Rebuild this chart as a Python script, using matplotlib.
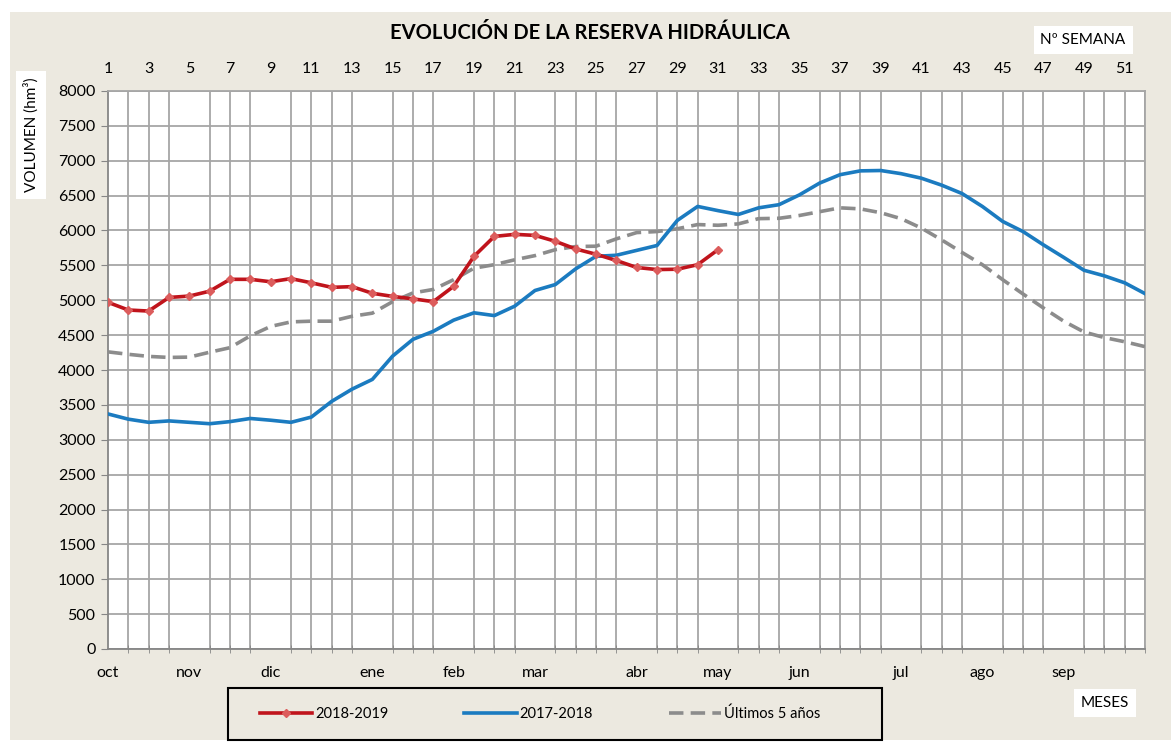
import matplotlib.pyplot as plt
from matplotlib.patches import Rectangle
from matplotlib.lines import Line2D

plt.rcParams['font.family'] = ['Lato', 'DejaVu Sans']

# Weekly data (hm3), hydrological year starting in October
weeks = list(range(1, 53))

reserva_2018_2019 = [4970, 4860, 4845, 5040, 5060, 5130, 5300, 5300, 5265, 5310,
                     5250, 5185, 5195, 5100, 5055, 5020, 4980, 5200, 5630, 5915,
                     5945, 5930, 5845, 5735, 5660, 5570, 5470, 5440, 5445, 5510,
                     5725]

reserva_2017_2018 = [3370, 3295, 3250, 3270, 3250, 3230, 3260, 3305, 3280, 3250,
                     3325, 3550, 3725, 3865, 4200, 4440, 4555, 4715, 4820, 4780,
                     4915, 5140, 5225, 5450, 5630, 5645, 5715, 5785, 6145, 6345,
                     6285, 6230, 6325, 6370, 6510, 6680, 6800, 6855, 6860, 6815,
                     6750, 6650, 6530, 6345, 6130, 5985, 5795, 5615, 5430, 5350,
                     5250, 5095]

ultimos_5 = [4260, 4225, 4195, 4180, 4185, 4255, 4320, 4490, 4625, 4690,
             4700, 4700, 4770, 4815, 4980, 5105, 5155, 5295, 5460, 5510,
             5580, 5640, 5725, 5770, 5775, 5880, 5970, 5985, 6025, 6085,
             6075, 6095, 6170, 6175, 6215, 6270, 6325, 6310, 6255, 6170,
             6035, 5865, 5685, 5510, 5295, 5090, 4890, 4700, 4545, 4465,
             4405, 4335]

meses = ['oct', 'nov', 'dic', 'ene', 'feb', 'mar', 'abr', 'may', 'jun', 'jul', 'ago', 'sep']
meses_semana = [1, 5, 9, 14, 18, 22, 27, 31, 35, 40, 44, 48]

beige = '#ece9e0'
grid_color = '#a6a6a6'

fig = plt.figure(figsize=(11.71, 7.46), dpi=100)
fig.patch.set_facecolor('white')

# Beige panel behind the whole chart
fig.patches.append(Rectangle((10 / 1171, 6 / 746), 1161 / 1171, 728 / 746,
                             transform=fig.transFigure, facecolor=beige,
                             edgecolor='none', zorder=-10))

ax = fig.add_axes([108 / 1171, 1 - 649 / 746, 1037 / 1171, 558 / 746])
ax.set_facecolor('white')

ax.plot(weeks, ultimos_5, color='#8c8c8c', lw=2.6, dashes=(4, 2), zorder=3)
ax.plot(weeks, reserva_2017_2018, color='#1b7bc0', lw=2.6, zorder=4)
ax.plot(weeks[:len(reserva_2018_2019)], reserva_2018_2019, color='#c0141c', lw=2.6,
        marker='D', markersize=4, markerfacecolor='#dc5c5c', markeredgecolor='#dc5c5c',
        zorder=5)

ax.set_xlim(1, 52)
ax.set_ylim(0, 8000)
ax.set_yticks(range(0, 8001, 500))

# Bottom axis: month labels, week tick marks
ax.set_xticks(meses_semana)
ax.set_xticklabels(meses, fontsize=11.5)
ax.set_xticks(weeks, minor=True)
ax.tick_params(axis='x', which='major', length=0, pad=12)
ax.tick_params(axis='x', which='minor', length=6, direction='inout', color='#868686')
ax.tick_params(axis='y', length=5, direction='out', color='#868686', labelsize=11.5, pad=4)

ax.grid(True, which='minor', axis='x', color=grid_color, lw=1.3)
ax.grid(True, which='major', axis='y', color=grid_color, lw=1.3)
ax.set_axisbelow(True)

for side in ['left', 'bottom']:
    ax.spines[side].set_color('#868686')
    ax.spines[side].set_linewidth(1.3)
for side in ['top', 'right']:
    ax.spines[side].set_color(grid_color)
    ax.spines[side].set_linewidth(1.3)

# Top axis: week numbers
top = ax.secondary_xaxis('top')
top.set_xticks(list(range(1, 52, 2)))
top.set_xticklabels([str(w) for w in range(1, 52, 2)], fontsize=11.5)
top.tick_params(length=0, pad=11)
top.spines['top'].set_visible(False)

fig.text(590 / 1171, 1 - 33 / 746, 'EVOLUCIÓN DE LA RESERVA HIDRÁULICA',
         ha='center', va='center', fontsize=14.5, fontweight='bold')

box = dict(facecolor='white', edgecolor='none', pad=5)
fig.text(1083 / 1171, 1 - 40 / 746, 'Nº SEMANA', ha='center', va='center',
         fontsize=11, bbox=box)
fig.text(1105 / 1171, 1 - 703 / 746, 'MESES', ha='center', va='center',
         fontsize=11, bbox=box)
fig.text(31 / 1171, 1 - 135 / 746, 'VOLUMEN (hm³)', ha='center', va='center',
         rotation=90, fontsize=11, bbox=box)

# Legend with its own frame
fig.patches.append(Rectangle((228 / 1171, 1 - 740 / 746), 654 / 1171, 52 / 746,
                             transform=fig.transFigure, facecolor='none',
                             edgecolor='black', lw=1.5, zorder=5))
handles = [
    Line2D([], [], color='#c0141c', lw=2.6, marker='D', markersize=4,
           markerfacecolor='#dc5c5c', markeredgecolor='#dc5c5c'),
    Line2D([], [], color='#1b7bc0', lw=2.6),
    Line2D([], [], color='#8c8c8c', lw=2.6, dashes=(4, 2)),
]
fig.legend(handles, ['2018-2019', '2017-2018', 'Últimos 5 años'],
           loc='center', bbox_to_anchor=(540 / 1171, 1 - 714 / 746), ncol=3,
           frameon=False, fontsize=10.5, handlelength=3.6, handletextpad=0.2,
           columnspacing=5.2)

plt.savefig('out.png', dpi=100, facecolor=fig.get_facecolor())
